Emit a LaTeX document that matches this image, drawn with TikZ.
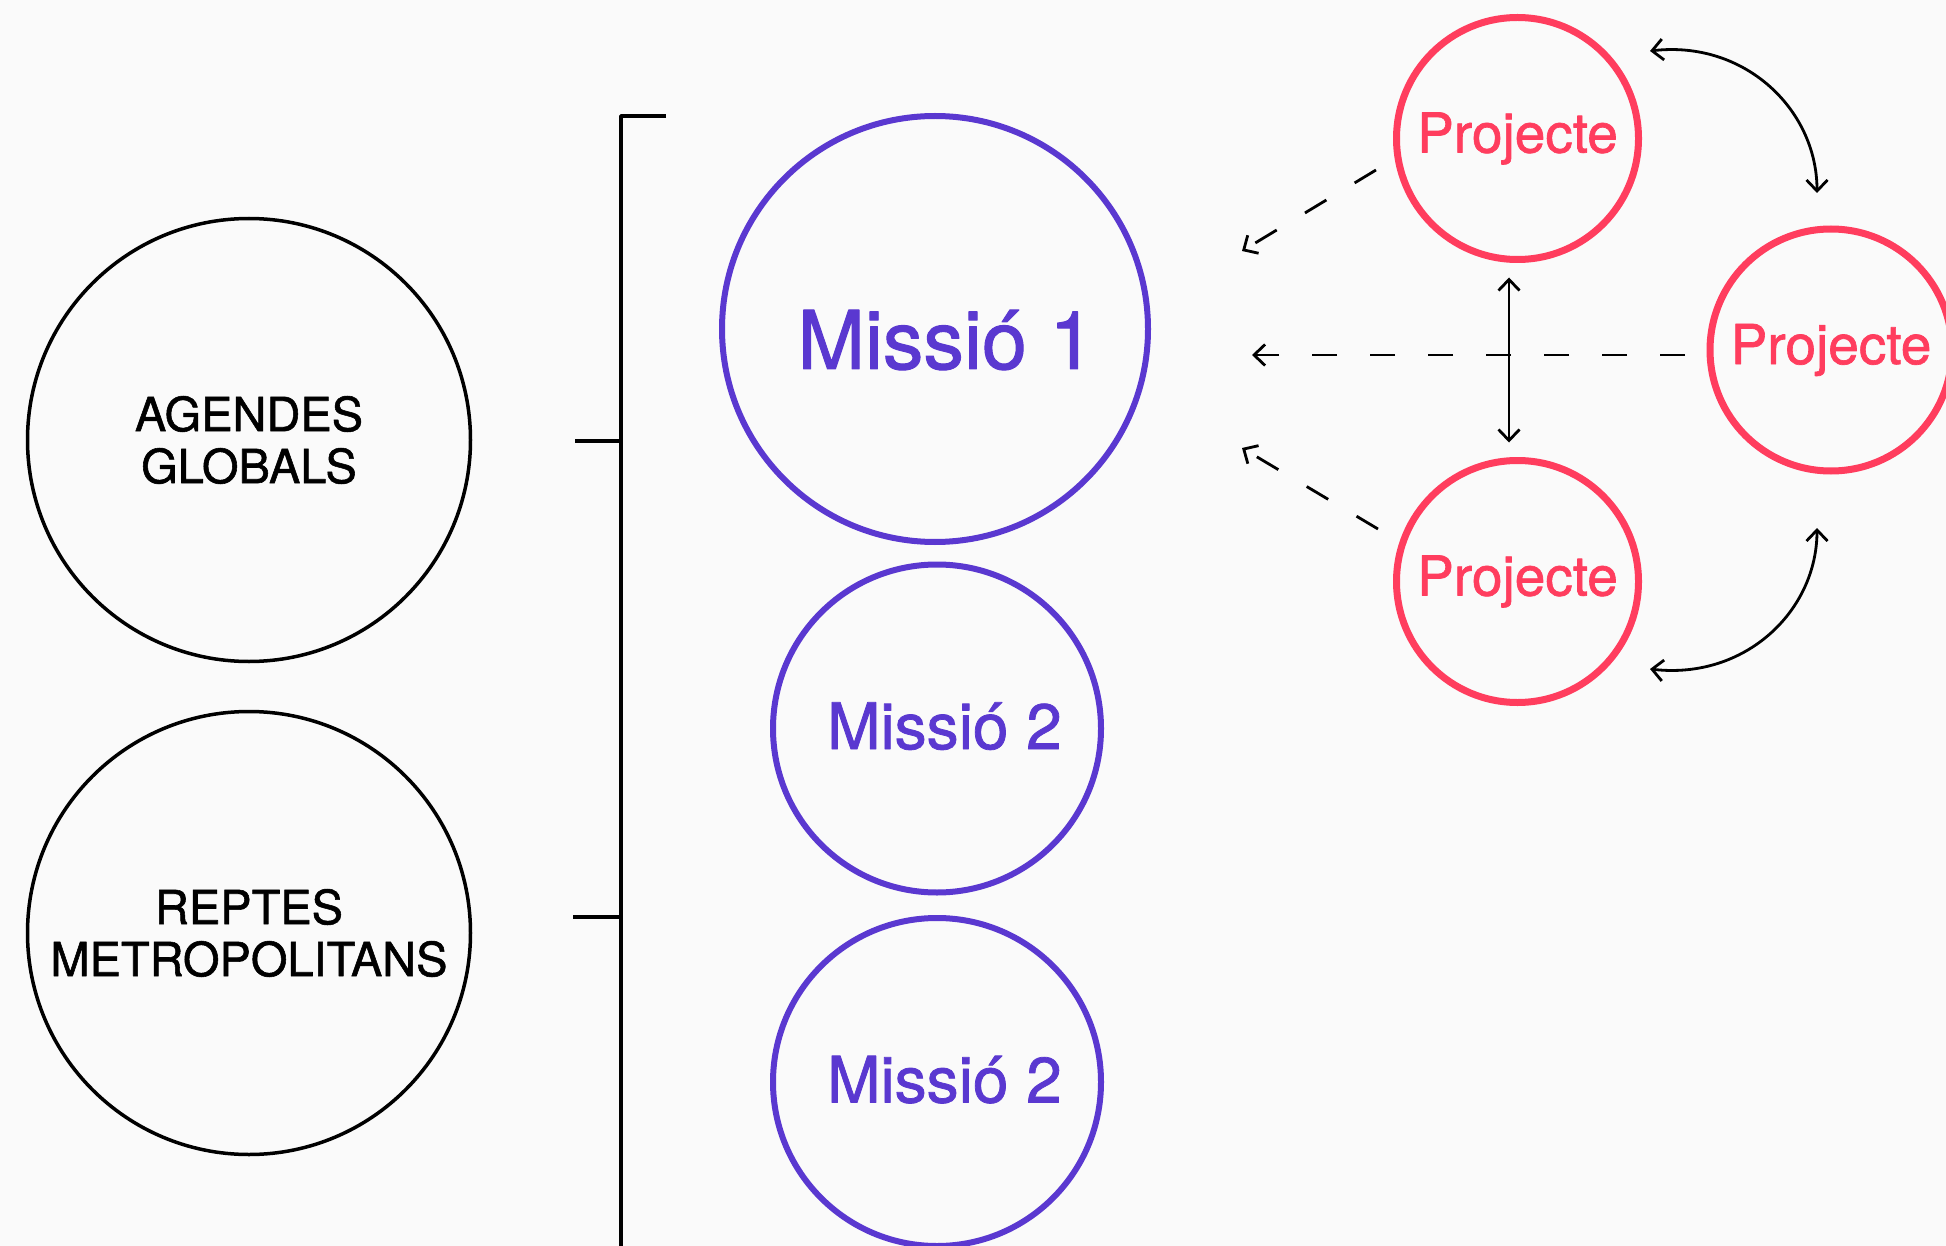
\documentclass[tikz,border=0pt]{standalone}
\usepackage{fontspec}
\setmainfont{TeX Gyre Heros}[FakeBold=1.2]
\usetikzlibrary{arrows.meta}
\definecolor{fons}{RGB}{250,250,250}
\definecolor{lila}{RGB}{90,56,208}
\definecolor{vermell}{RGB}{255,61,94}
\begin{document}
\begin{tikzpicture}[x=1pt, y=-1pt, line join=round, >={Straight Barb[length=11pt,width=21pt]},
		repte/.style={circle, draw=black, line width=3.5pt, minimum size=443pt, inner sep=0pt, align=center, font=\fontsize{47}{52}\selectfont},
		missio/.style={circle, draw=lila, text=lila, line width=6pt, minimum size=328pt, inner sep=0pt, text height=41pt, text depth=0pt, font=\fontsize{64}{70}\selectfont},
		projecte/.style={circle, draw=vermell, text=vermell, line width=7pt, minimum size=242pt, inner sep=0pt, font=\fontsize{55}{60}\selectfont},
		fletxa/.style={line width=2.8pt},
		discont/.style={fletxa, dash pattern=on 25pt off 33pt}]
				\useasboundingbox (0,0) rectangle (1946,1246);
				\fill[fons] (0,0) rectangle (1946,1246);
				\node[repte] (agendes) at (249,440) {AGENDES\\GLOBALS};
				\node[repte] (reptes) at (249,933) {REPTES\\METROPOLITANS};
				\draw[line width=3.5pt] (666,116)--(621,116)--(621,1250) (575,441)--(621,441) (573,917)--(621,917);
				\node[missio, minimum size=426pt, text height=80pt, font=\fontsize{81}{90}\selectfont] (m1) at (935,329) {\hspace*{22pt}Missió 1};
				\node[missio] (m2) at (937,728.5) {\hspace*{15pt}Missió 2};
				\node[missio] (m3) at (937,1082) {\hspace*{15pt}Missió 2};
				\foreach \n/\x/\y in {p1/1517.5/138.5, p2/1831/350, p3/1517.5/581.5}
					\node[projecte] (\n) at (\x,\y) {Projecte};
				\path (1685,355) coordinate (H) (1252,355) coordinate (H')
				(1376,170) coordinate (D) (1242,251) coordinate (D')
				(1378,529) coordinate (E) (1242,448) coordinate (E')
				(1650,51) coordinate (A) (1817,193) coordinate (A')
				(1817,528) coordinate (B) (1650,669) coordinate (B')
				;
				\draw[discont,->] (H)--(H');
				\draw[discont,->] (D)--(D');
				\draw[discont,->] (E)--(E');
				\draw[fletxa,<->,shorten <=14.5pt,shorten >=14.5pt] ([xshift=-8.5pt]p1.south)--([xshift=-8.5pt]p3.north);
				\draw[fletxa,<->] (A) .. controls (1745,40) and (1817,110) .. (A');
				\draw[fletxa,<->] (B) .. controls (1817,611) and (1745,680) .. (B');
		\end{tikzpicture}
\end{document}
